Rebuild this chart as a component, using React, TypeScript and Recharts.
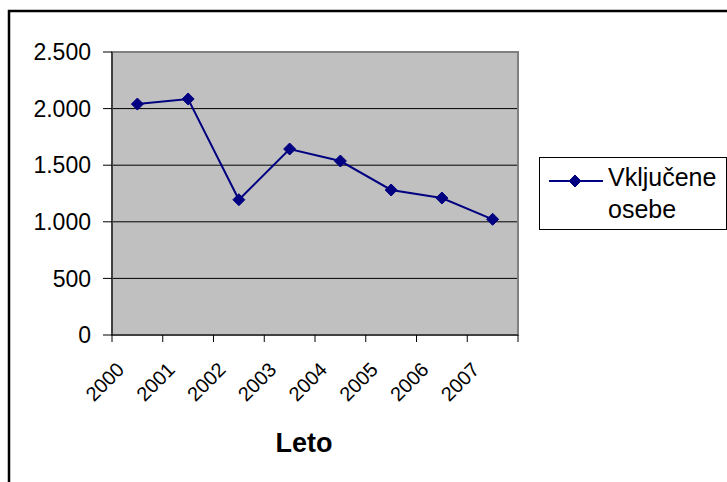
import {
    LineChart,
    Line,
    XAxis,
    YAxis,
    CartesianGrid,
    ReferenceArea,
} from 'recharts';

const years = ['2000', '2001', '2002', '2003', '2004', '2005', '2006', '2007'];
const persons = [2040, 2085, 1195, 1643, 1537, 1281, 1210, 1022];
const yTicks = [0, 500, 1000, 1500, 2000, 2500];
const boundaryTicks = [0, 1, 2, 3, 4, 5, 6, 7, 8];
const centerTicks = [0.5, 1.5, 2.5, 3.5, 4.5, 5.5, 6.5, 7.5];

const seriesName = 'Vključene osebe';
const xTitle = 'Leto';

const FONT = '"Liberation Sans", Arial, sans-serif';
const NAVY = '#000080';

const rows = persons.map((v, i) => ({ x: i + 0.5, value: v }));

function formatThousands(n: number) {
    return String(n).replace(/\B(?=(\d{3})+(?!\d))/g, '.');
}

function Diamond(props: any) {
    const { cx, cy } = props;
    if (cx == null || cy == null) return null;
    const r = 6;
    return (
        <path
            d={`M${cx},${cy - r}L${cx + r},${cy}L${cx},${cy + r}L${cx - r},${cy}Z`}
            fill={NAVY}
            stroke={NAVY}
        />
    );
}

function YearTick(props: any) {
    const { x, y, payload } = props;
    const ax = x - 12;
    const ay = y + 28;
    return (
        <text
            x={ax}
            y={ay}
            transform={`rotate(-45, ${ax}, ${ay})`}
            textAnchor="end"
            fontSize={20}
            fontFamily={FONT}
            fill="#000"
        >
            {years[Math.floor(payload.value)]}
        </text>
    );
}

function TitleLabel(props: any) {
    const vb = props.viewBox || {};
    return (
        <text
            x={vb.x + vb.width / 2 - 11}
            y={vb.y + 109}
            textAnchor="middle"
            fontSize={27}
            fontWeight="bold"
            fontFamily={FONT}
            fill="#000"
        >
            {xTitle}
        </text>
    );
}

// outer chart frame (only top and left edges show) plus the legend box,
// drawn in page coordinates
function Overlay() {
    const [line1, line2] = seriesName.split(' ');
    return (
        <svg
            width={727}
            height={482}
            style={{ position: 'fixed', left: 0, top: 0, pointerEvents: 'none' }}
        >
            <path d="M9,482 V11 H727" fill="none" stroke="#000" strokeWidth={2.5} />
            <g transform="translate(539,157)">
                <rect x={0.5} y={0.5} width={187} height={72} fill="#fff" stroke="#000" strokeWidth={1} />
                <line x1={10} y1={24} x2={64} y2={24} stroke={NAVY} strokeWidth={2} />
                <Diamond cx={36} cy={24} />
                <text x={69} y={29} fontSize={25} fontFamily={FONT} fill="#000">
                    {line1}
                </text>
                <text x={69} y={61} fontSize={25} fontFamily={FONT} fill="#000">
                    {line2}
                </text>
            </g>
        </svg>
    );
}

export default function App() {
    return (
        <div style={{ position: 'relative', width: 719, height: 466 }}>
            <div style={{ position: 'absolute', left: 0, top: 0 }}>
                <LineChart
                    width={719}
                    height={466}
                    data={rows}
                    margin={{ top: 44, right: 209, left: 0, bottom: 0 }}
                >
                    <CartesianGrid vertical={false} stroke="#000" strokeOpacity={1} fill="#C0C0C0" fillOpacity={1} />
                    <ReferenceArea
                        x1={0}
                        x2={8}
                        y1={0}
                        y2={2500}
                        fill="none"
                        fillOpacity={0}
                        stroke="#808080"
                        strokeWidth={2}
                    />
                    <XAxis
                        dataKey="x"
                        type="number"
                        domain={[0, 8]}
                        ticks={boundaryTicks}
                        height={8}
                        tickSize={7}
                        axisLine={{ stroke: '#000' }}
                        tickLine={{ stroke: '#000' }}
                        tickFormatter={() => ''}
                    />
                    <XAxis
                        xAxisId="labels"
                        dataKey="x"
                        type="number"
                        domain={[0, 8]}
                        ticks={centerTicks}
                        height={131}
                        tickSize={0}
                        tickMargin={0}
                        axisLine={false}
                        tickLine={false}
                        tick={<YearTick />}
                        label={<TitleLabel />}
                    />
                    <YAxis
                        type="number"
                        domain={[0, 2500]}
                        ticks={yTicks}
                        width={104}
                        tickSize={9}
                        tickMargin={12}
                        axisLine={{ stroke: '#000' }}
                        tickLine={{ stroke: '#000' }}
                        tickFormatter={(v) => formatThousands(Number(v))}
                        tick={{ fontSize: 23, fontFamily: FONT, fill: '#000' }}
                    />
                    <Line
                        type="linear"
                        dataKey="value"
                        name={seriesName}
                        stroke={NAVY}
                        strokeWidth={2}
                        dot={<Diamond />}
                        activeDot={false}
                        isAnimationActive={false}
                    />
                </LineChart>
            </div>
            <Overlay />
        </div>
    );
}
